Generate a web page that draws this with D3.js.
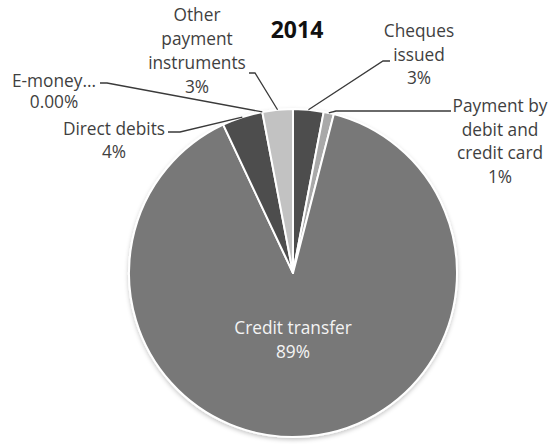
<!DOCTYPE html>
<html>
<head>
<meta charset="utf-8">
<script src="https://cdn.jsdelivr.net/npm/d3@7"></script>
<style>
  html, body { margin: 0; padding: 0; background: #fff; }
  svg { display: block; }
  text { font-family: "Open Sans", "Liberation Sans", sans-serif; }
</style>
</head>
<body>
<svg id="chart" width="550" height="444"></svg>
<script>
// Payment instruments, share of total, 2014 (clockwise from 12 o'clock)
const categories = [
  "Cheques issued",
  "Payment by debit and credit card",
  "Credit transfer",
  "Direct debits",
  "E-money...",
  "Other payment instruments"
];
const shares = [3, 1, 89, 4, 0, 3];
const shareLabels = ["3%", "1%", "89%", "4%", "0.00%", "3%"];
const labelLines = [
  ["Cheques", "issued"],
  ["Payment by", "debit and", "credit card"],
  ["Credit transfer"],
  ["Direct debits"],
  ["E-money..."],
  ["Other", "payment", "instruments"]
];
const title = "2014";

// Layout
const width = 550, height = 444;
const cx = 293, cy = 273, radius = 164;
const sliceFill = ["#4e4e4e", "#a9a9a9", "#787878", "#4e4e4e", "#9a9a9a", "#c2c2c2"];

// label placement: text centre x, first baseline, line step, leader polyline start
const labelLayout = [
  { x: 419, y: 37,  step: 23.5, leader: [[390, 61], [383, 61]] },
  { x: 500, y: 112, step: 23.6, leader: [[451, 111], [336, 111]] },
  { x: 293, y: 334, step: 24,   leader: null, inside: true },
  { x: 114, y: 135, step: 23,   leader: [[168, 132], [180, 132]] },
  { x: 54,  y: 87,  step: 21,   leader: [[100, 83], [107, 83]] },
  { x: 197, y: 21,  step: 24,   leader: [[249, 73], [255, 73]] }
];

const data = categories.map((c, i) => ({ name: c, value: shares[i], pct: shareLabels[i], lines: labelLines[i], i }));

const svg = d3.select("#chart");

const defs = svg.append("defs");
const shadow = defs.append("filter").attr("id", "pieShadow")
  .attr("x", "-10%").attr("y", "-10%").attr("width", "120%").attr("height", "120%");
shadow.append("feDropShadow")
  .attr("dx", 0).attr("dy", 2).attr("stdDeviation", 2)
  .attr("flood-color", "#000").attr("flood-opacity", 0.22);

const pie = d3.pie().value(d => d.value).sort(null).startAngle(0).endAngle(2 * Math.PI);
const arcs = pie(data);
const arc = d3.arc().innerRadius(0).outerRadius(radius);

const g = svg.append("g").attr("transform", `translate(${cx},${cy})`);

g.append("g").attr("filter", "url(#pieShadow)")
  .selectAll("path")
  .data(arcs.filter(a => a.data.value > 0))
  .join("path")
  .attr("d", arc)
  .attr("fill", d => sliceFill[d.data.i])
  .attr("stroke", "#ffffff")
  .attr("stroke-width", 2)
  .attr("stroke-linejoin", "round");

// leader lines: from label anchor to slice outer edge at mid-angle
const edgePoint = a => {
  const m = (a.startAngle + a.endAngle) / 2;
  return [cx + radius * Math.sin(m), cy - radius * Math.cos(m)];
};
const line = d3.line();
arcs.forEach(a => {
  const lay = labelLayout[a.data.i];
  if (!lay.leader) return;
  const pts = lay.leader.concat([edgePoint(a)]);
  svg.append("path")
    .attr("d", line(pts))
    .attr("fill", "none")
    .attr("stroke", "#3a3a3a")
    .attr("stroke-width", 1.3);
});

// labels
data.forEach(d => {
  const lay = labelLayout[d.i];
  const t = svg.append("text")
    .attr("text-anchor", "middle")
    .attr("font-size", 17.3)
    .attr("fill", lay.inside ? "#f4f4f4" : "#3f3f3f");
  d.lines.concat([d.pct]).forEach((s, k) => {
    t.append("tspan")
      .attr("x", lay.x)
      .attr("y", lay.y + k * lay.step)
      .text(s);
  });
});

svg.append("text")
  .attr("x", 297).attr("y", 38)
  .attr("text-anchor", "middle")
  .attr("font-size", 23)
  .attr("font-weight", "bold")
  .attr("fill", "#111")
  .text(title);
</script>
</body>
</html>
